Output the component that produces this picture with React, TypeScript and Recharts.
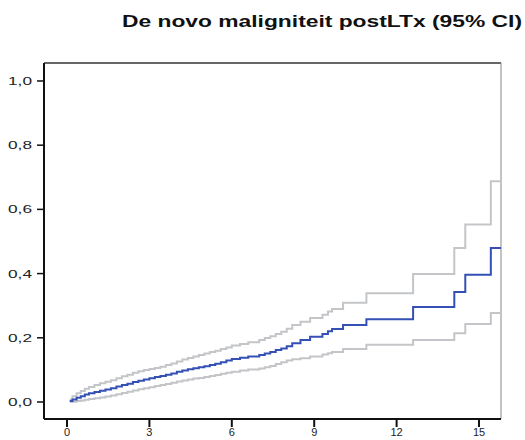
import React from "react";
import { LineChart, Line, XAxis, YAxis, ReferenceLine } from "recharts";

// years since transplant (event times of the step curve)
const times = [
  0.1, 0.2, 0.35, 0.5, 0.65, 0.8, 1.0, 1.2, 1.4, 1.6, 1.8, 2.0, 2.2, 2.4, 2.6,
  2.8, 3.0, 3.2, 3.4, 3.6, 3.8, 4.0, 4.2, 4.4, 4.6, 4.8, 5.0, 5.2, 5.4, 5.6,
  5.8, 6.0, 6.3, 6.6, 7.0, 7.2, 7.4, 7.6, 7.8, 8.0, 8.2, 8.5, 8.85, 9.3, 9.5,
  9.65, 10.05, 10.9, 12.6, 14.1, 14.5, 15.43, 15.8,
];
const estimate = [
  0.003, 0.008, 0.013, 0.018, 0.023, 0.027, 0.031, 0.035, 0.039, 0.043, 0.048,
  0.053, 0.057, 0.062, 0.066, 0.07, 0.074, 0.078, 0.081, 0.085, 0.089, 0.094,
  0.098, 0.102, 0.105, 0.108, 0.111, 0.115, 0.119, 0.124, 0.129, 0.134, 0.138,
  0.142, 0.146, 0.151, 0.156, 0.162, 0.167, 0.174, 0.183, 0.193, 0.203, 0.212,
  0.22, 0.227, 0.24, 0.258, 0.296, 0.343, 0.396, 0.48, 0.48,
];
const upperCI = [
  0.008, 0.018, 0.027, 0.034, 0.041, 0.047, 0.053, 0.058, 0.063, 0.068, 0.074,
  0.08, 0.085, 0.091, 0.096, 0.1, 0.103, 0.106, 0.11, 0.115, 0.12, 0.126, 0.132,
  0.137, 0.142, 0.146, 0.151, 0.156, 0.16, 0.165, 0.17, 0.176, 0.181, 0.186,
  0.193, 0.199, 0.205, 0.212, 0.219, 0.228, 0.24, 0.25, 0.262, 0.272, 0.282,
  0.29, 0.309, 0.339, 0.399, 0.48, 0.553, 0.688, 0.688,
];
const lowerCI = [
  0.0, 0.001, 0.003, 0.005, 0.007, 0.009, 0.012, 0.014, 0.017, 0.02, 0.024,
  0.028, 0.032, 0.036, 0.04, 0.043, 0.046, 0.05, 0.053, 0.056, 0.06, 0.064,
  0.067, 0.07, 0.073, 0.075, 0.078, 0.081, 0.084, 0.088, 0.091, 0.094, 0.098,
  0.101, 0.104, 0.108, 0.112, 0.118, 0.124, 0.129, 0.133, 0.136, 0.142, 0.148,
  0.152, 0.156, 0.165, 0.178, 0.193, 0.214, 0.243, 0.277, 0.277,
];

const xTicks = [0, 3, 6, 9, 12, 15];
const yTicks = [0, 0.2, 0.4, 0.6, 0.8, 1.0];
const title = "De novo maligniteit postLTx (95% CI)";

const X_DOMAIN: [number, number] = [-0.837, 15.8];
const Y_DOMAIN: [number, number] = [-0.053, 1.056];

const rows = times.map((t, i) => ({
  t,
  est: estimate[i],
  up: upperCI[i],
  lo: lowerCI[i],
}));

const fmt = (v: number) => v.toFixed(1).replace(".", ",");

const YTick = (props: any) => {
  const { x, y, payload } = props;
  return (
    <text
      x={x - 3}
      y={y + 4}
      textAnchor="end"
      fontSize={11}
      fontFamily="Liberation Sans, Arial, sans-serif"
      fill="#222"
      textLength={24}
      lengthAdjust="spacingAndGlyphs"
    >
      {fmt(payload.value)}
    </text>
  );
};

const XTick = (props: any) => {
  const { x, y, payload } = props;
  return (
    <text
      x={x}
      y={y + 7}
      textAnchor="middle"
      fontSize={11}
      fontFamily="Liberation Sans, Arial, sans-serif"
      fill="#222"
    >
      {payload.value}
    </text>
  );
};

export default function App() {
  return (
    <div
      style={{
        position: "absolute",
        left: 0,
        top: 0,
        width: 525,
        height: 440,
        background: "#fff",
      }}
    >
      <svg
        width={525}
        height={40}
        style={{ position: "absolute", left: 0, top: 0 }}
      >
        <text
          x={122}
          y={27}
          fontSize={17}
          fontWeight="bold"
          fontFamily="Liberation Sans, Arial, sans-serif"
          fill="#111"
          textLength={400}
          lengthAdjust="spacingAndGlyphs"
        >
          {title}
        </text>
      </svg>
      <LineChart
        width={525}
        height={440}
        data={rows}
        margin={{ top: 63, right: 24, bottom: 0, left: 0 }}
      >
        <XAxis
          dataKey="t"
          type="number"
          domain={X_DOMAIN}
          ticks={xTicks}
          allowDataOverflow
          height={21}
          axisLine={{ stroke: "#111", strokeWidth: 2 }}
          tickLine={{ stroke: "#111", strokeWidth: 2 }}
          tickSize={8}
          tick={<XTick />}
        />
        <YAxis
          type="number"
          domain={Y_DOMAIN}
          ticks={yTicks}
          allowDataOverflow
          width={44}
          axisLine={{ stroke: "#111", strokeWidth: 2 }}
          tickLine={{ stroke: "#111", strokeWidth: 1.5 }}
          tickSize={7}
          tick={<YTick />}
        />
        <ReferenceLine y={Y_DOMAIN[1]} stroke="#333" strokeWidth={1.5} />
        <ReferenceLine x={X_DOMAIN[1]} stroke="#888" strokeWidth={1} />
        <Line
          dataKey="up"
          type="stepAfter"
          stroke="#c3c5c8"
          strokeWidth={2}
          dot={false}
          isAnimationActive={false}
        />
        <Line
          dataKey="lo"
          type="stepAfter"
          stroke="#c3c5c8"
          strokeWidth={2}
          dot={false}
          isAnimationActive={false}
        />
        <Line
          dataKey="est"
          type="stepAfter"
          stroke="#3550b4"
          strokeWidth={2}
          dot={false}
          isAnimationActive={false}
        />
      </LineChart>
    </div>
  );
}
